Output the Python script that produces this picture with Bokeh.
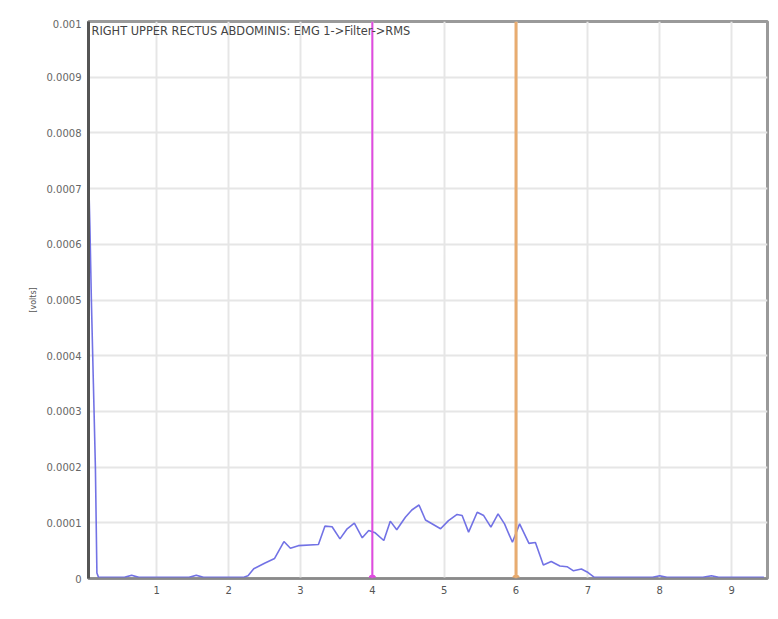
from bokeh.plotting import figure
from bokeh.models import Span, Label, Spacer, CustomJSTickFormatter, FixedTicker, Range1d
from bokeh.layouts import column
from bokeh.embed import file_html
from bokeh.resources import INLINE

# ---- data ----
title_text = "RIGHT UPPER RECTUS ABDOMINIS: EMG 1->Filter->RMS"
y_label = "[volts]"

time_s = [0.04, 0.07, 0.09, 0.118, 0.146, 0.167, 0.19, 0.3, 0.55, 0.65, 0.75, 1.0,
          1.45, 1.55, 1.65, 2.0, 2.2, 2.27, 2.35, 2.50, 2.64, 2.77, 2.86, 2.97,
          3.25, 3.34, 3.44, 3.55, 3.65, 3.75, 3.86, 3.95, 4.04, 4.16, 4.25, 4.34,
          4.46, 4.55, 4.65, 4.74, 4.95, 5.06, 5.18, 5.25, 5.34, 5.46, 5.55, 5.65,
          5.75, 5.84, 5.95, 6.05, 6.18, 6.27, 6.38, 6.49, 6.61, 6.71, 6.80, 6.91,
          6.99, 7.09, 7.3, 7.9, 8.0, 8.1, 8.6, 8.72, 8.82, 9.0, 9.45]
rms_volts = [0.00078, 0.00063, 0.0005, 0.00035, 0.0002, 0.00001, 0.000002, 0.000002,
             0.000002, 0.000006, 0.000002, 0.000002, 0.000002, 0.000006, 0.000002,
             0.000002, 0.000002, 0.000005, 0.0000174, 0.0000275, 0.000036, 0.0000664,
             0.0000544, 0.000059, 0.000061, 0.000094, 0.000093, 0.0000712, 0.0000892,
             0.0000993, 0.000073, 0.0000862, 0.000082, 0.0000682, 0.000103, 0.0000874,
             0.00011, 0.000123, 0.000132, 0.000105, 0.0000892, 0.000104, 0.000115,
             0.000113, 0.0000832, 0.000119, 0.000113, 0.0000923, 0.000116, 0.000098,
             0.000065, 0.000098, 0.000063, 0.0000646, 0.0000242, 0.0000305, 0.0000224,
             0.0000212, 0.0000138, 0.0000169, 0.0000118, 0.000002, 0.000002, 0.000002,
             0.000005, 0.000002, 0.000002, 0.000005, 0.000002, 0.000002, 0.000002]

x_ticks = [1, 2, 3, 4, 5, 6, 7, 8, 9]
y_ticks = [0, 0.0001, 0.0002, 0.0003, 0.0004, 0.0005, 0.0006, 0.0007, 0.0008, 0.0009, 0.001]

event_times = [4.0, 6.0]
event_values = [0.0, 0.0]
event_colors = ["#e04be0", "#e8ac70"]
event_widths = [2, 3]

x_start, x_end = 0.05, 9.5
y_start, y_end = 0.0, 0.001

FONT = "DejaVu Sans"

p = figure(width=770, height=592, output_backend="svg", toolbar_location=None,
           x_range=Range1d(x_start, x_end), y_range=Range1d(y_start, y_end),
           min_border_left=88, min_border_right=3, min_border_top=2,
           min_border_bottom=33)

p.background_fill_color = "white"
p.border_fill_color = "white"
p.outline_line_color = "#9a9a9a"
p.outline_line_width = 3

# grids
p.xgrid.ticker = FixedTicker(ticks=x_ticks)
p.ygrid.ticker = FixedTicker(ticks=y_ticks)
p.grid.grid_line_color = "#e6e6e6"
p.grid.grid_line_width = 2

# x axis
p.xaxis.ticker = FixedTicker(ticks=x_ticks)
p.xaxis.axis_line_color = "#8a8a8a"
p.xaxis.axis_line_width = 2
p.xaxis.major_tick_line_color = None
p.xaxis.minor_tick_line_color = None
p.xaxis.major_label_standoff = 1
p.xaxis.major_label_text_font = FONT
p.xaxis.major_label_text_font_size = "10px"
p.xaxis.major_label_text_color = "#555555"

# y axis
p.yaxis.ticker = FixedTicker(ticks=y_ticks)
p.yaxis.formatter = CustomJSTickFormatter(
    code="return tick == 0 ? '0' : parseFloat(tick.toFixed(4)).toString();")
p.yaxis.axis_line_color = "#555555"
p.yaxis.axis_line_width = 3
p.yaxis.major_tick_line_color = None
p.yaxis.minor_tick_line_color = None
p.yaxis.major_label_standoff = 1
p.yaxis.major_label_text_font = FONT
p.yaxis.major_label_text_font_size = "10px"
p.yaxis.major_label_text_color = "#666666"
p.yaxis.axis_label = y_label
p.yaxis.axis_label_text_font = FONT
p.yaxis.axis_label_text_font_size = "8px"
p.yaxis.axis_label_text_font_style = "normal"
p.yaxis.axis_label_text_color = "#555555"
p.yaxis.axis_label_standoff = 6

# event markers
for t, c, w in zip(event_times, event_colors, event_widths):
    p.add_layout(Span(location=t, dimension="height", line_color=c, line_width=w))
p.scatter(event_times, event_values, size=7, color=event_colors)

# signal
p.line(time_s, rms_volts, line_color="#6a6ae4", line_width=1.6, line_alpha=0.95)

# title inside the frame
p.add_layout(Label(x=x_start, y=y_end, x_offset=3, y_offset=-9, text=title_text,
                   text_font=FONT, text_font_size="11.4px", text_color="#444444",
                   text_baseline="alphabetic"))

layout = column(Spacer(height=19), p)

open("out.html", "w").write(file_html(layout, INLINE))
